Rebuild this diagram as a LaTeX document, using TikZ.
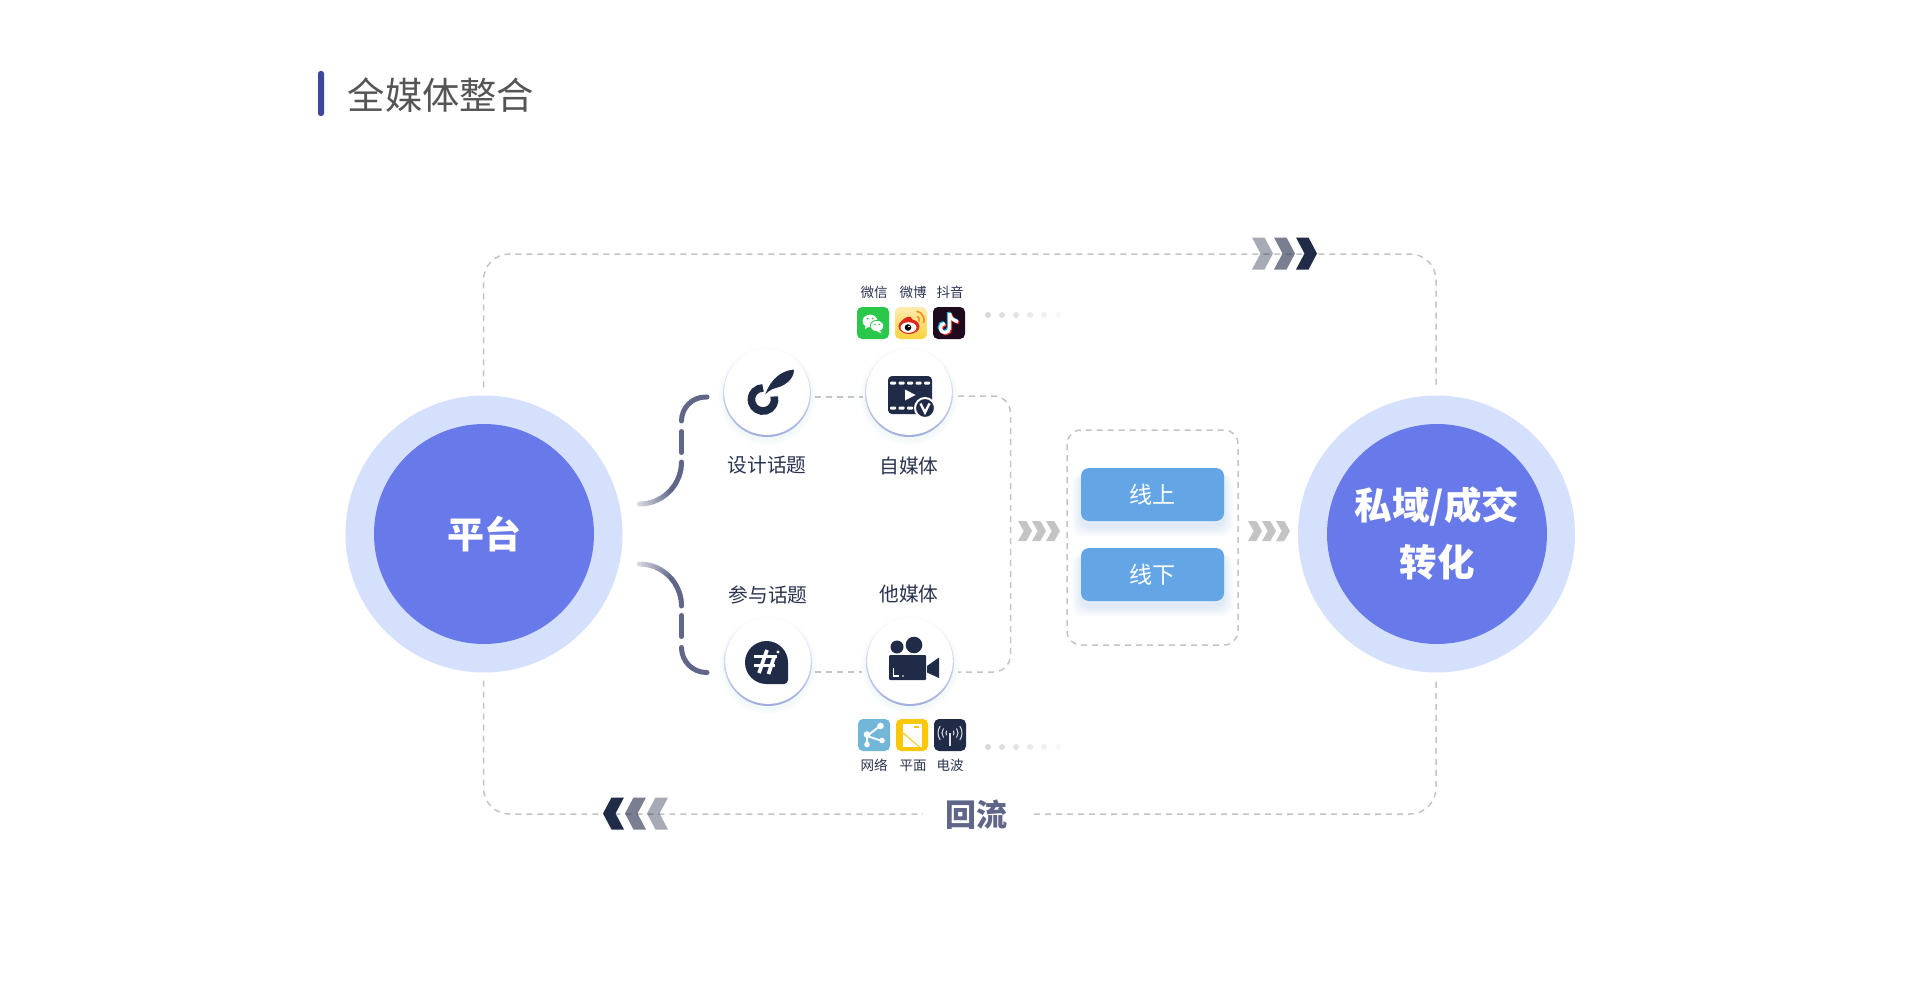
\documentclass[tikz,border=0pt]{standalone}
\usepackage{fontspec}
\setmainfont{Noto Sans CJK SC}
\usetikzlibrary{calc}
\definecolor{ringout}{HTML}{D5E0FD}
\definecolor{ringin}{HTML}{6879E9}
\definecolor{navy}{HTML}{202B47}
\definecolor{slate}{HTML}{5F6688}
\definecolor{slatelight}{HTML}{D5D7DF}
\definecolor{dashc}{HTML}{C4C4C4}
\definecolor{btnblue}{HTML}{64A6E5}
\definecolor{halo}{HTML}{9FADDE}
\definecolor{titlebar}{HTML}{3C479B}
\definecolor{titletext}{HTML}{555555}
\definecolor{labeltext}{HTML}{2A3350}
\definecolor{wxgreen}{HTML}{2AC84A}
\definecolor{wbred}{HTML}{DC281E}
\definecolor{wborange}{HTML}{F5911E}
\definecolor{wbtop}{HTML}{FFEBAF}
\definecolor{wbbot}{HTML}{FFD13C}
\definecolor{ttdark}{HTML}{1F0B1E}
\definecolor{netblue}{HTML}{72B6D8}
\definecolor{planey}{HTML}{FBC707}
\newcommand{\fs}[1]{\fontsize{#1}{#1}\selectfont}
\newcommand{\chevR}[6]{\fill[#6] (#1,{#2-#3/2}) -- ({#1+#4-#5},{#2-#3/2}) -- ({#1+#4},#2) -- ({#1+#4-#5},{#2+#3/2}) -- (#1,{#2+#3/2}) -- ({#1+#5},#2) -- cycle;}
\newcommand{\chevL}[6]{\fill[#6] (#1,{#2-#3/2}) -- ({#1-#4+#5},{#2-#3/2}) -- ({#1-#4},#2) -- ({#1-#4+#5},{#2+#3/2}) -- (#1,{#2+#3/2}) -- ({#1-#5},#2) -- cycle;}
\newcommand{\softround}[2]{\foreach \s in {1,...,7}{\fill[halo,opacity=0.012] (#1,{#2+3}) circle ({43+\s*0.9});}}
\newcommand{\softbtn}[2]{\foreach \s in {1,...,10}{\fill[btnblue,opacity=0.016,rounded corners=10] ({#1-71-\s},{#2-20}) rectangle ({#1+71+\s},{#2+32+\s});}}
\newcommand{\ttnote}[3]{\begin{scope}[shift={(#1,#2)}]\draw[#3,line width=3.3,line cap=butt] (949.5,313) -- (949.5,328) arc (0:270:4.6);\draw[#3,line width=3.3] (949.5,313) .. controls (950,318) and (954,321) .. (958,321.5);\end{scope}}
\tikzset{
 dashline/.style={draw=dashc,line width=1.5,dash pattern=on 6 off 5},
 bigout/.style={circle,fill=ringout,minimum size=277,inner sep=0},
 bigin/.style={circle,fill=ringin,minimum size=220,inner sep=0,text=white,align=center},
 ringnode/.style={circle,minimum size=88,inner sep=0,top color=white,bottom color=halo},
 caplabel/.style={text=labeltext,font=\fs{19.7},inner sep=0},
 minilabel/.style={text=labeltext,font=\fs{13.5},inner sep=0},
 btn/.style={fill=btnblue,rounded corners=8,minimum width=143,minimum height=53,inner sep=0,text=white,font=\fs{23}},
 bracearc/.style={line width=5,line cap=round,draw=slate},
 tile/.style={rounded corners=5}
}
\begin{document}
\begin{tikzpicture}[x=1pt,y=-1pt]
\useasboundingbox (0,0) rectangle (1920,982);
\fill[white] (0,0) rectangle (1920,982);
% title
\node[fill=titlebar,rounded corners=2.5,minimum width=6,minimum height=45,inner sep=0] (tbar) at (321,93.5) {};
\node[anchor=west,text=titletext,font=\fs{37.3},inner sep=0] (title) at (347.5,95) {全媒体整合};
% outer loop
\node[bigout] (pout) at (484,534) {};
\node[bigin,font=\fs{37}\bfseries] (plat) at (484,534) {平台};
\node[bigout] (sout) at (1436.5,534) {};
\node[bigin,font=\fontsize{37.5}{57}\selectfont\bfseries] (siyu) at (1437,534) {私域/成交\\转化};
\coordinate (loopA) at ($(pout.north)+(-0.5,-8)$);
\coordinate (loopB) at ($(sout.north)+(-0.5,-8)$);
\coordinate (loopC) at ($(pout.south)+(-0.5,8)$);
\coordinate (loopD) at ($(sout.south)+(-0.5,8)$);
\node[text=slate,font=\fs{31}\bfseries,inner sep=0] (back) at (976,815) {回流};
\draw[dashline,rounded corners=26] (loopA) -- (483.5,254) -- (1436,254) -- (loopB);
\draw[dashline,rounded corners=26] (loopC) -- (483.5,814) -- (923,814);
\draw[dashline,rounded corners=26] (1034,814) -- (1436,814) -- (loopD);
\chevR{1252}{253.5}{32}{21}{8.5}{navy,opacity=.4}
\chevR{1274}{253.5}{32}{21}{8.5}{navy,opacity=.6}
\chevR{1296}{253.5}{32}{21}{8.5}{navy}
\chevL{668}{813.5}{32}{21}{8.5}{navy,opacity=.4}
\chevL{646}{813.5}{32}{21}{8.5}{navy,opacity=.6}
\chevL{624}{813.5}{32}{21}{8.5}{navy}
% brace curves
\foreach \a [evaluate=\a as \p using {min(100,(90-\a)*2)}] in {90,85,...,5}{
 \draw[line width=5,line cap=round,draw=slate!\p!slatelight] ({639.5+42*cos(\a)},{462+42*sin(\a)}) -- ({639.5+42*cos(\a-5)},{462+42*sin(\a-5)});
 \draw[line width=5,line cap=round,draw=slate!\p!slatelight] ({639.5+42*cos(\a)},{606-42*sin(\a)}) -- ({639.5+42*cos(\a-5)},{606-42*sin(\a-5)});
}
\draw[bracearc] (681.5,431.5) -- (681.5,452.5);
\draw[bracearc] (707,397) -- (705.5,397) arc (270:180:24);
\draw[bracearc] (681.5,615.5) -- (681.5,636.5);
\draw[bracearc] (681.5,647.5) arc (180:90:25) -- (707,672.5);
% circles
\softround{767}{393}\softround{909}{393}\softround{768}{662}\softround{910}{662}
\node[ringnode] (topic) at (767,393) {};
\node[ringnode] (self) at (909,393) {};
\node[ringnode] (join) at (768,662) {};
\node[ringnode] (other) at (910,662) {};
\foreach \c in {topic,self,join,other}{\fill[white] ($(\c.center)+(0,-0.9)$) circle (42.8);}
% connectors
\draw[dashline] ($(topic.east)+(4,4)$) -- ($(self.west)+(-2,4)$);
\draw[dashline] ($(join.east)+(3,10)$) -- ($(other.west)+(-4,10)$);
\coordinate (busA) at ($(self.east)+(5,3)$);
\coordinate (busB) at ($(other.east)+(4,10)$);
\draw[dashline,rounded corners=17] (busA) -- (1010.5,396) -- (1010.5,672) -- (busB);
% feather
\draw[navy,line width=7.6] (763,399.5) ++(-15:11.6) arc (-15:270:11.6);
\draw[white,line width=1.8,fill=navy] (763,398) .. controls (767,384) and (776,370) .. (794.5,368.5) .. controls (796.5,376) and (789,386) .. (776,389) .. controls (771,390) and (767,394) .. (763,398) -- cycle;
% film
\fill[navy,rounded corners=4] (888,376) rectangle (932,414);
\foreach \x in {890,898.5,907,915.5,924}{\fill[white,rounded corners=1] (\x,381.5) rectangle ++(6,3.2);\fill[white,rounded corners=1] (\x,406.5) rectangle ++(6,3.2);}
\fill[white] (905,389.5) -- (915.5,395) -- (905,400.5) -- cycle;
\filldraw[fill=navy,draw=white,line width=2] (925,408) circle (10);
\draw[white,line width=2.4] (920.5,403.5) -- (925,412.5) -- (929.5,403.5);
% hash
\fill[navy] (745,662.5) arc (180:270:21.5) arc (270:360:21.5) -- (788,680) arc (0:90:4) -- (766.5,684) arc (90:180:21.5) -- cycle;
\draw[white,line width=3.4] (753.5,656.5) -- (777,656.5);
\draw[white,line width=3.4] (754,665.5) -- (775,665.5);
\draw[white,line width=3.7] (767,650) -- (759,673);
\draw[white,line width=3.7] (774.5,656) -- (768.5,674);
\fill[white] (778,652) circle (1.7);
% camera
\fill[navy] (897,647) circle (6.5);
\fill[navy] (914,645) circle (8.3);
\fill[navy,rounded corners=1] (889,655) rectangle (926,680);
\fill[navy] (927,666) -- (939,657.5) -- (939,678) -- (927,672.5) -- cycle;
\draw[white,line width=1.5] (893.5,668) -- (893.5,676) -- (899,676);
\fill[white] (903,676) circle (0.9);
% top tiles
\fill[tile,wxgreen] (857,307) rectangle (889,339);
\fill[white] (870,321) ellipse (7.5 and 6.3);
\fill[white] (865.5,326) -- (865,329) -- (868.5,327) -- cycle;
\filldraw[fill=white,draw=wxgreen,line width=.8] (877,326) ellipse (6.8 and 5.7);
\fill[white] (880,330.5) -- (881.5,333.5) -- (877,331.5) -- cycle;
\foreach \p in {(867.5,318.5),(872.5,318.5)}{\fill[wxgreen] \p circle (1);}
\foreach \p in {(875,324.5),(879.5,324.5)}{\fill[wxgreen] \p circle (.9);}
\shade[tile,top color=wbtop,bottom color=wbbot] (895,307) rectangle (927,339);
\fill[wbred] (909,326.5) ellipse (10.5 and 7.5);
\fill[wbred] (899,326) .. controls (900,320) and (908,315) .. (911,317) .. controls (913,319) and (912,321) .. (913,322) -- cycle;
\fill[white] (908.5,327.5) ellipse (8 and 5.3);
\fill[black] (908,327.5) circle (3.3);
\fill[white] (909,326.5) circle (.9);
\draw[wborange,line width=1.5] (915,320) ++(-60:4.5) arc (-60:20:4.5);
\draw[wborange,line width=1.7] (915,320) ++(-80:9) arc (-80:20:9);
\fill[tile,ttdark] (933,307) rectangle (965,339);
\ttnote{-1}{-1}{cyan}
\ttnote{1}{1}{red!85!white}
\ttnote{0}{0}{white}
% bottom tiles
\fill[tile,netblue] (858,719) rectangle (890,751);
\draw[white,line width=1.8] (880,726) -- (867,736) -- (882,741);
\draw[white,line width=1.8] (867,736) -- (867,744);
\foreach \p/\r in {(880.5,726)/3.3,(867,734.5)/3.3,(882,740.5)/2.8,(867,744.5)/2.8}{\fill[white] \p circle (\r);}
\fill[tile,planey] (896,719) rectangle (928,751);
\fill[white] (903,724) rectangle (922,747);
\draw[planey,line width=1] (903,733) -- (922,749);
\fill[planey] (914,725.5) rectangle (918.5,727.5);
\fill[tile,navy] (934,719) rectangle (966,751);
\draw[white!85!navy,line width=1.4] (950,733) -- (950,746);
\foreach \r in {4,8,12}{
 \draw[white!85!navy,line width=1] (950,733) ++(-35:\r) arc (-35:35:\r);
 \draw[white!85!navy,line width=1] (950,733) ++(145:\r) arc (145:215:\r);
}
% dots
\foreach \x/\o in {988/1,1002/.85,1016/.7,1030/.55,1044/.35,1058/.18}{
 \fill[black!15,opacity=\o] (\x,315) circle (3);
 \fill[black!15,opacity=\o] (\x,747) circle (3);
}
% labels
\node[minilabel] (t1) at (874,292) {微信};
\node[minilabel] (t2) at (913,292) {微博};
\node[minilabel] (t3) at (950,292) {抖音};
\node[minilabel] (b1) at (874,765.5) {网络};
\node[minilabel] (b2) at (913,765.5) {平面};
\node[minilabel] (b3) at (950,765.5) {电波};
\node[caplabel] (l1) at (767,465.5) {设计话题};
\node[caplabel] (l2) at (909,465.5) {自媒体};
\node[caplabel] (l3) at (768,594.5) {参与话题};
\node[caplabel] (l4) at (909,594.5) {他媒体};
% channel box
\draw[dashline,rounded corners=14] (1067,430) rectangle (1238,645);
\softbtn{1152.5}{494.5}\softbtn{1152.5}{574.5}
\node[btn] (on) at (1152.5,494.5) {\raisebox{-1pt}{线上}};
\node[btn] (off) at (1152.5,574.5) {\raisebox{-1pt}{线下}};
\foreach \x in {1018,1032,1046,1248,1262,1276}{\chevR{\x}{531}{20}{14}{5.7}{dashc}}
\end{tikzpicture}
\end{document}
